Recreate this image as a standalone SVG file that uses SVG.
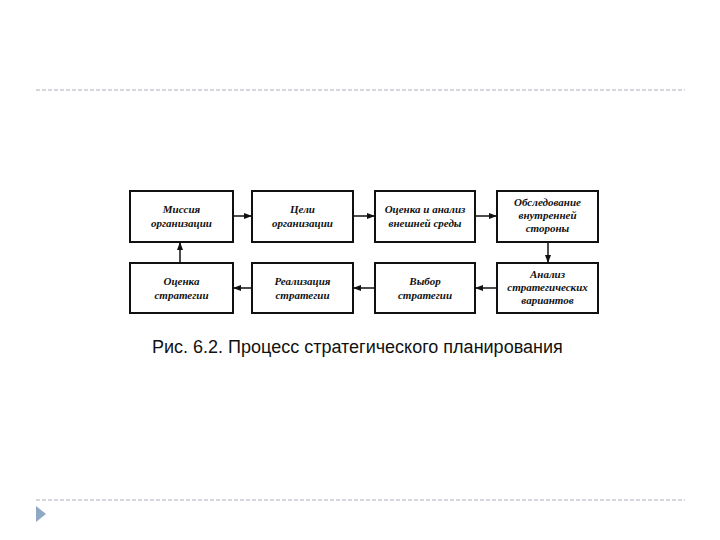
<svg xmlns="http://www.w3.org/2000/svg" width="720" height="540" viewBox="0 0 720 540">
<style>
.sep{stroke:#a9b0b8;stroke-width:1;stroke-dasharray:4,2;fill:none}
.box{fill:#fff;stroke:#111;stroke-width:2}
.lbl{font-family:"Liberation Serif",serif;font-style:italic;font-weight:bold;font-size:11px;fill:#111;text-anchor:middle}
.cap{font-family:"Liberation Sans",Arial,sans-serif;font-size:18px;fill:#111}
.con{stroke:#111;stroke-width:1.5;fill:none;marker-end:url(#ah)}
</style>
<defs>
<marker id="ah" markerWidth="8" markerHeight="6" refX="7" refY="3" orient="auto" markerUnits="userSpaceOnUse">
<path d="M0,0 L8,3 L0,6 z" fill="#111"/>
</marker>
</defs>
<rect width="720" height="540" fill="#fff"/>
<line class="sep" x1="36" y1="90" x2="685" y2="90"/>
<line class="sep" x1="36" y1="500" x2="685" y2="500"/>
<polygon points="36,506 46,514 36,522" fill="#8fa8c4"/>
<g id="n1"><rect class="box" x="130" y="191" width="103" height="51"/><text class="lbl" x="181.5" y="213">Миссия</text><text class="lbl" x="181.5" y="227">организации</text></g>
<g id="n2"><rect class="box" x="252" y="191" width="101" height="51"/><text class="lbl" x="302.5" y="213">Цели</text><text class="lbl" x="302.5" y="227">организации</text></g>
<g id="n3"><rect class="box" x="375" y="191" width="100" height="51"/><text class="lbl" x="425" y="213">Оценка и анализ</text><text class="lbl" x="425" y="227">внешней среды</text></g>
<g id="n4"><rect class="box" x="497" y="191" width="101" height="51"/><text class="lbl" x="547.5" y="206">Обследование</text><text class="lbl" x="547.5" y="219">внутренней</text><text class="lbl" x="547.5" y="232">стороны</text></g>
<g id="n5"><rect class="box" x="497" y="263" width="101" height="50"/><text class="lbl" x="547.5" y="278">Анализ</text><text class="lbl" x="547.5" y="291">стратегических</text><text class="lbl" x="547.5" y="304">вариантов</text></g>
<g id="n6"><rect class="box" x="375" y="263" width="100" height="50"/><text class="lbl" x="425" y="285">Выбор</text><text class="lbl" x="425" y="299">стратегии</text></g>
<g id="n7"><rect class="box" x="252" y="263" width="101" height="50"/><text class="lbl" x="302.5" y="285">Реализация</text><text class="lbl" x="302.5" y="299">стратегии</text></g>
<g id="n8"><rect class="box" x="130" y="263" width="103" height="50"/><text class="lbl" x="181.5" y="285">Оценка</text><text class="lbl" x="181.5" y="299">стратегии</text></g>
<g id="connectors">
<line class="con" x1="234" y1="216" x2="251" y2="216"/>
<line class="con" x1="354" y1="216" x2="374" y2="216"/>
<line class="con" x1="476" y1="216" x2="496" y2="216"/>
<line class="con" x1="548" y1="243" x2="548" y2="262"/>
<line class="con" x1="496" y1="288" x2="476" y2="288"/>
<line class="con" x1="374" y1="288" x2="354" y2="288"/>
<line class="con" x1="251" y1="288" x2="234" y2="288"/>
<line class="con" x1="180" y1="262" x2="180" y2="243"/>
</g>
<text class="cap" x="152" y="353">Рис. 6.2. Процесс стратегического планирования</text>
</svg>
